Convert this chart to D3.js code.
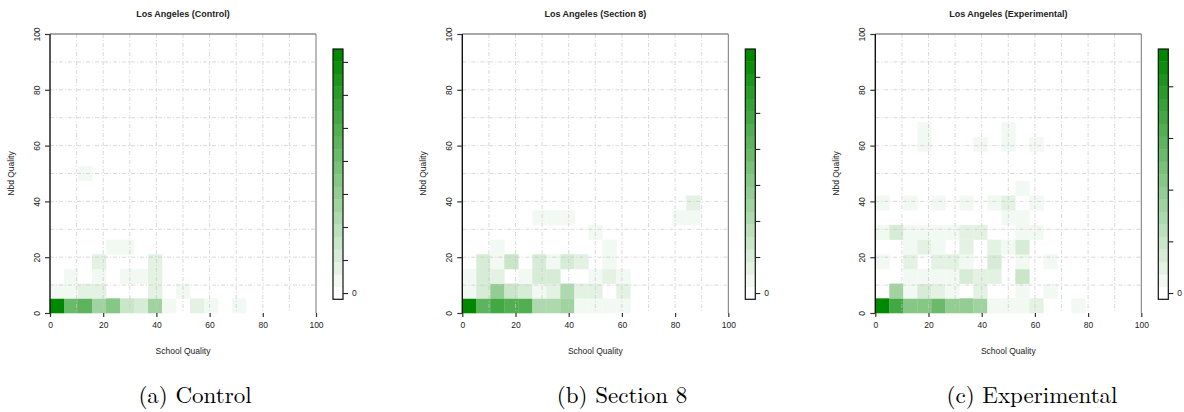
<!DOCTYPE html>
<html><head><meta charset="utf-8">
<script src="https://cdn.jsdelivr.net/npm/d3@7"></script>
<style>
html,body{margin:0;padding:0;background:#fff;}
svg{display:block;}
text{font-family:"Liberation Sans",Arial,Helvetica,sans-serif;fill:#222;}
.cap{font-family:"Latin Modern Roman","CMU Serif","Liberation Serif","DejaVu Serif",serif;fill:#000;}
</style></head>
<body>
<svg id="fig" width="1184" height="412"></svg>
<script>
// ---- data ----
const panelTitles = ["Los Angeles (Control)", "Los Angeles (Section 8)", "Los Angeles (Experimental)"];
const captions = ["(a) Control", "(b) Section 8", "(c) Experimental"];
const nBins = 19;                      // bins per axis (0..100)
const axisTicks = [0, 20, 40, 60, 80, 100];
const gridValues = [10, 20, 30, 40, 50, 60, 70, 80, 90];
const colorbarTicks = [0, 5, 10, 15, 20, 25, 30, 35];
const xLabel = "School Quality";
const yLabel = "Nbd Quality";
// cells: [schoolBin, nbdBin, count]
const controlCells = [
  [0,0,36],[1,0,21],[2,0,23],[3,0,13],[4,0,17],[5,0,7],[6,0,6],[7,0,13],[8,0,2],[10,0,4],[11,0,2],[13,0,2],
  [0,1,2],[1,1,2],[2,1,4],[3,1,4],[7,1,4],[9,1,2],
  [1,2,2],[3,2,2],[5,2,2],[6,2,2],[7,2,4],
  [3,3,4],[7,3,3],
  [4,4,2],[5,4,2],
  [2,9,2]
];
const section8Cells = [
  [0,0,33],[1,0,21],[2,0,24],[3,0,23],[4,0,22],[5,0,10],[6,0,11],[7,0,12],[8,0,2],[9,0,2],[10,0,2],[11,0,2],
  [0,1,2],[1,1,5],[2,1,14],[3,1,7],[4,1,5],[5,1,2],[6,1,4],[7,1,10],[8,1,4],[9,1,4],[11,1,4],
  [0,2,2],[1,2,5],[2,2,4],[4,2,2],[5,2,5],[6,2,5],[9,2,2],[10,2,4],[11,2,2],
  [1,3,5],[2,3,2],[3,3,7],[5,3,5],[6,3,2],[7,3,5],[8,3,4],[10,3,2],
  [2,4,2],[10,4,2],
  [9,5,2],
  [5,6,2],[6,6,2],[7,6,2],[15,6,2],[16,6,2],
  [16,7,4]
];
const experimentalCells = [
  [0,0,23],[1,0,17],[2,0,11],[3,0,11],[4,0,13],[5,0,10],[6,0,10],[7,0,9],[8,0,1],[9,0,1],[10,0,1],[11,0,2],[14,0,1],
  [1,1,9],[2,1,1],[3,1,4],[4,1,2],[5,1,1],[7,1,2],[10,1,1],[12,1,1],
  [2,2,1],[3,2,1],[4,2,1],[5,2,1],[6,2,4],[7,2,2],[8,2,2],[10,2,5],
  [0,3,1],[2,3,2],[4,3,2],[5,3,2],[6,3,1],[8,3,4],[10,3,1],[12,3,1],
  [2,4,1],[3,4,2],[4,4,1],[6,4,2],[8,4,2],[9,4,1],[10,4,4],
  [0,5,1],[1,5,4],[2,5,1],[3,5,1],[4,5,1],[5,5,1],[6,5,2],[7,5,2],[10,5,1],[11,5,1],
  [9,6,1],[10,6,1],
  [0,7,1],[2,7,1],[4,7,1],[6,7,1],[8,7,1],[9,7,2],[11,7,1],
  [10,8,1],
  [3,11,1],[7,11,1],[9,11,1],[11,11,1],
  [3,12,1],[9,12,1]
];
const panelCells = [controlCells, section8Cells, experimentalCells];

// ---- layout ----
const plotLefts = [50, 462.3, 875.3];
const plotW = 266, plotTop = 34, plotBottom = 313;
const cbOffset = 17, cbW = 10, cbTop = 49, cbBottom = 299.3;
const nLevels = 20;
const lowColor = "#ffffff", highColor = "#008800";
const captionCenters = [195, 622, 1032];

const svg = d3.select("#fig");

panelCells.forEach((cells, p) => {
  const L = plotLefts[p];
  const g = svg.append("g");
  const x = d3.scaleLinear().domain([0, 100]).range([L, L + plotW]);
  const y = d3.scaleLinear().domain([0, 100]).range([plotBottom, plotTop]);
  const bw = 100 / nBins;
  const zMax = d3.max(cells, d => d[2]);
  const levelOf = v => Math.max(0, Math.min(nLevels - 1, Math.round(v / zMax * (nLevels - 1))));
  const colorOf = k => d3.interpolateRgb(lowColor, highColor)(k / (nLevels - 1));

  // cells
  g.append("g").selectAll("rect").data(cells).join("rect")
    .attr("x", d => x(d[0] * bw))
    .attr("width", d => x((d[0] + 1) * bw) - x(d[0] * bw) + 0.3)
    .attr("y", d => y((d[1] + 1) * bw))
    .attr("height", d => y(d[1] * bw) - y((d[1] + 1) * bw) + 0.3)
    .attr("fill", d => colorOf(levelOf(d[2])));

  // grid (dot-dash)
  const grid = g.append("g").attr("stroke", "#c8c8c8").attr("stroke-width", 0.8)
    .attr("stroke-dasharray", "4,2,1,2").attr("opacity", 0.85);
  grid.selectAll(".gv").data(gridValues).join("line")
    .attr("x1", d => x(d)).attr("x2", d => x(d)).attr("y1", plotTop).attr("y2", plotBottom);
  grid.selectAll(".gh").data(gridValues).join("line")
    .attr("y1", d => y(d)).attr("y2", d => y(d)).attr("x1", L).attr("x2", L + plotW);

  // box: top and right
  g.append("line").attr("x1", L).attr("x2", L + plotW).attr("y1", plotTop).attr("y2", plotTop)
    .attr("stroke", "#555").attr("stroke-width", 1);
  g.append("line").attr("x1", L + plotW).attr("x2", L + plotW).attr("y1", plotTop).attr("y2", plotBottom)
    .attr("stroke", "#777").attr("stroke-width", 1);

  // x axis
  const xa = g.append("g").attr("transform", `translate(0,${plotBottom})`)
    .call(d3.axisBottom(x).tickValues(axisTicks).tickSize(4).tickPadding(5).tickFormat(d3.format("d")));
  xa.select(".domain").remove();
  xa.selectAll(".tick line").attr("stroke", "#333").attr("stroke-width", 1.2);
  xa.selectAll("text").style("font-size", "8.5px").attr("fill", "#222").style("font-family", "Liberation Sans, Arial, sans-serif");

  // y axis
  const ya = g.append("g").attr("transform", `translate(${L},0)`)
    .call(d3.axisLeft(y).tickValues(axisTicks).tickSize(5).tickFormat(d3.format("d")));
  ya.select(".domain").attr("stroke", "#111").attr("stroke-width", 1.4).attr("d", `M0,${plotTop}V${plotBottom}`);
  ya.selectAll(".tick line").attr("stroke", "#333").attr("stroke-width", 1.2);
  ya.selectAll(".tick text")
    .attr("x", null).attr("dy", null)
    .attr("text-anchor", "middle")
    .attr("transform", "translate(-13,0) rotate(-90)")
    .attr("dy", "0.35em")
    .style("font-size", "8.5px").attr("fill", "#222").style("font-family", "Liberation Sans, Arial, sans-serif");

  // labels
  g.append("text").attr("x", L + plotW / 2).attr("y", 354).attr("text-anchor", "middle")
    .style("font-size", "8.5px").text(xLabel);
  g.append("text").attr("transform", `translate(${L - 36},${(plotTop + plotBottom) / 2}) rotate(-90)`)
    .attr("text-anchor", "middle").style("font-size", "8.5px").text(yLabel);
  g.append("text").attr("x", L + plotW / 2).attr("y", 16.5).attr("text-anchor", "middle")
    .style("font-size", "9px").style("font-weight", "bold").attr("fill", "#111").text(panelTitles[p]);

  // colorbar
  const cbX = L + plotW + cbOffset;
  const half = zMax / (nLevels - 1) / 2;
  const z = d3.scaleLinear().domain([-half, zMax + half]).range([cbBottom, cbTop]);
  const levels = d3.range(nLevels);
  g.append("g").selectAll("rect").data(levels).join("rect")
    .attr("x", cbX).attr("width", cbW)
    .attr("y", k => z(k * zMax / (nLevels - 1) + half))
    .attr("height", k => z(k * zMax / (nLevels - 1) - half) - z(k * zMax / (nLevels - 1) + half) + 0.3)
    .attr("fill", k => colorOf(k));
  g.append("rect").attr("x", cbX).attr("y", cbTop).attr("width", cbW).attr("height", cbBottom - cbTop)
    .attr("fill", "none").attr("stroke", "#111").attr("stroke-width", 1.2);
  const za = g.append("g").attr("transform", `translate(${cbX + cbW},0)`)
    .call(d3.axisRight(z).tickValues(colorbarTicks.filter(t => t <= zMax)).tickSize(5).tickPadding(4)
      .tickFormat(t => t === 0 ? "0" : ""));
  za.select(".domain").remove();
  za.selectAll(".tick line").attr("stroke", "#222").attr("stroke-width", 1.1);
  za.selectAll("text").style("font-size", "8.5px").attr("fill", "#222").style("font-family", "Liberation Sans, Arial, sans-serif");

  // caption
  svg.append("text").attr("class", "cap").attr("x", captionCenters[p]).attr("y", 403)
    .attr("text-anchor", "middle").style("font-size", "23px").text(captions[p]);
});
</script>
</body></html>
